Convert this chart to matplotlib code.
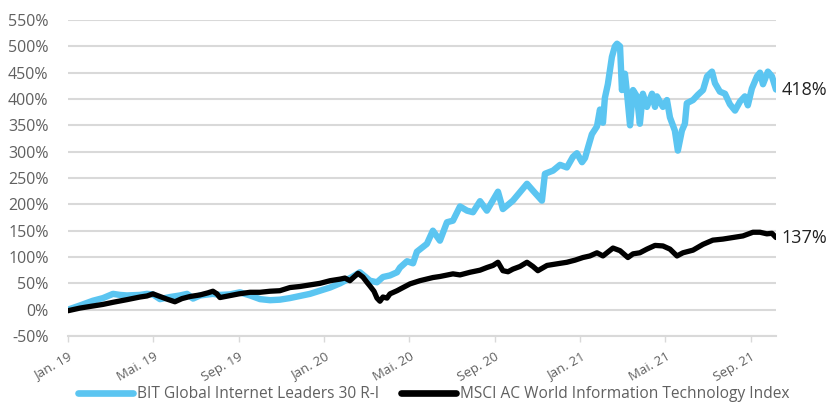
import matplotlib
matplotlib.use("Agg")
import matplotlib.pyplot as plt
from matplotlib.lines import Line2D

plt.rcParams['font.family'] = ['Open Sans', 'DejaVu Sans']

# x: months since Jan. 2019 ; values in %
msci_t = [0.00, 0.56, 1.17, 1.64, 2.11, 2.76, 3.37, 3.70, 3.98, 4.31, 4.64, 5.01, 5.34, 5.72,
          6.19, 6.56, 6.79, 6.98, 7.12, 7.50, 8.01, 8.53, 9.00, 9.47, 9.93, 10.40, 10.87,
          11.34, 11.81, 12.28, 12.75, 12.98, 13.21, 13.59, 13.82, 14.01, 14.15, 14.34, 14.48,
          14.62, 14.76, 14.95, 15.09, 15.42, 15.70, 16.03, 16.49, 17.10, 17.43, 18.04, 18.37,
          18.84, 19.31, 19.63, 19.92, 20.15, 20.38, 20.62, 20.85, 21.18, 21.51, 21.79, 22.02,
          22.45, 22.91, 23.38, 23.76, 24.13, 24.46, 24.79, 25.07, 25.54, 25.87, 26.24, 26.48,
          26.80, 27.13, 27.51, 27.88, 28.21, 28.54, 28.82, 29.29, 29.76, 30.22, 30.69, 31.16,
          31.63, 32.10, 32.43, 32.75, 32.99, 33.18]
msci_v = [-2, 3, 7, 10, 14, 19, 24, 26, 30, 25, 20, 15, 21, 25,
          28, 32, 35, 30, 23, 26, 30, 33, 33, 35, 36, 42, 44,
          47, 50, 55, 58, 60, 55, 69, 62, 52, 45, 35, 22,
          16, 24, 22, 30, 36, 42, 49, 55, 61, 63, 68, 66,
          71, 75, 80, 84, 90, 74, 72, 77, 82, 90, 82, 74,
          84, 87, 90, 94, 99, 102, 108, 102, 117, 112, 99, 106,
          108, 115, 122, 121, 115, 102, 108, 113, 124, 132, 134, 137,
          140, 147, 147, 144, 145, 137]

bit_t = [0.00, 0.56, 1.17, 1.64, 2.11, 2.44, 2.76, 3.37, 3.70, 3.98, 4.31, 4.78, 5.25, 5.58,
         5.86, 6.19, 6.79, 7.12, 7.59, 8.06, 8.29, 8.53, 9.00, 9.47, 9.93, 10.40, 10.87,
         11.34, 11.81, 12.28, 12.75, 12.98, 13.31, 13.68, 13.92, 14.15, 14.48, 14.76, 15.09,
         15.42, 15.56, 15.89, 16.17, 16.35, 16.82, 17.10, 17.43, 17.76, 18.04, 18.37, 18.70,
         18.98, 19.31, 19.63, 20.15, 20.38, 20.85, 21.51, 21.79, 22.21, 22.35, 22.73, 23.06,
         23.38, 23.66, 23.85, 24.09, 24.23, 24.37, 24.55, 24.79, 24.93, 25.07, 25.16, 25.30,
         25.49, 25.63, 25.73, 25.87, 25.96, 26.10, 26.20, 26.34, 26.48, 26.66, 26.80, 26.94,
         27.13, 27.37, 27.51, 27.60, 27.88, 28.07, 28.21, 28.44, 28.58, 28.77, 28.91, 29.00,
         29.29, 29.52, 29.76, 29.95, 30.18, 30.32, 30.55, 30.79, 31.02, 31.26, 31.49, 31.72,
         31.86, 32.05, 32.29, 32.43, 32.57, 32.80, 32.99, 33.18]
bit_v = [0, 8, 17, 22, 30, 28, 27, 28, 30, 29, 20, 24, 27, 30,
         21, 27, 30, 28, 29, 33, 30, 27, 20, 18, 19, 22, 26,
         30, 36, 42, 50, 55, 62, 71, 63, 55, 52, 62, 65,
         71, 80, 92, 88, 110, 125, 150, 131, 166, 169, 196, 188,
         185, 206, 188, 224, 191, 207, 239, 226, 207, 258, 264, 275,
         270, 290, 297, 280, 288, 308, 333, 348, 380, 355, 402, 428,
         480, 500, 505, 500, 417, 448, 410, 350, 417, 405, 353, 410,
         385, 410, 385, 405, 385, 398, 365, 340, 302, 340, 353, 392,
         398, 408, 417, 443, 452, 430, 414, 410, 390, 378, 395, 405,
         388, 420, 443, 450, 428, 452, 443, 418]

tick_pos = [0, 4, 8, 12, 16, 20, 24, 28, 32]
tick_labels = ["Jan. 19", "Mai. 19", "Sep. 19", "Jan. 20", "Mai. 20", "Sep. 20",
               "Jan. 21", "Mai. 21", "Sep. 21"]
y_ticks = list(range(-50, 551, 50))
series_names = ["BIT Global Internet Leaders 30 R-I",
                "MSCI AC World Information Technology Index"]
end_labels = ["418%", "137%"]

BLUE = "#5bc5f1"
BLACK = "#000000"
GRID = "#d9d9d9"
TXT = "#606060"

fig = plt.figure(figsize=(8.28, 4.03), dpi=100)
ax = fig.add_axes([68/828, 1-336/403, (776-68)/828, (336-20)/403])

ax.plot(bit_t, bit_v, color=BLUE, lw=4.6, solid_joinstyle='round', solid_capstyle='round', zorder=3)
ax.plot(msci_t, msci_v, color=BLACK, lw=3.8, solid_joinstyle='round', solid_capstyle='round', zorder=4)

ax.set_xlim(0, 33.18)
ax.set_ylim(-50, 550)
ax.set_yticks(y_ticks)
ax.set_yticklabels([f"{v}%" for v in y_ticks])
ax.set_xticks(tick_pos)
ax.set_xticklabels(tick_labels, rotation=30, ha='right', rotation_mode='anchor')

ax.grid(axis='y', color=GRID, lw=1.5, zorder=0)
for s in ['top', 'right', 'left']:
    ax.spines[s].set_visible(False)
ax.spines['bottom'].set_color(GRID)
ax.spines['bottom'].set_linewidth(1.5)
ax.tick_params(axis='y', length=0, pad=14, labelsize=11.5, labelcolor=TXT)
ax.tick_params(axis='x', length=4, width=1, color=GRID, pad=6, labelsize=9.5, labelcolor=TXT)

ax.text(1.008, (bit_v[-1] + 50) / 600, end_labels[0], transform=ax.transAxes,
        fontsize=13, color="#222222", va='center', ha='left')
ax.text(1.008, (msci_v[-1] + 50) / 600, end_labels[1], transform=ax.transAxes,
        fontsize=13, color="#222222", va='center', ha='left')

handles = [Line2D([0], [0], color=BLUE, lw=4.8, solid_capstyle='round'),
           Line2D([0], [0], color=BLACK, lw=4.8, solid_capstyle='round')]
leg = fig.legend(handles, series_names, loc='center', bbox_to_anchor=(0.524, 0.022),
                 ncol=2, frameon=False, fontsize=11.2, handlelength=3.5, handletextpad=0.3,
                 columnspacing=1.4, labelcolor=TXT, borderpad=0.2)

fig.savefig("out.png", dpi=100)
